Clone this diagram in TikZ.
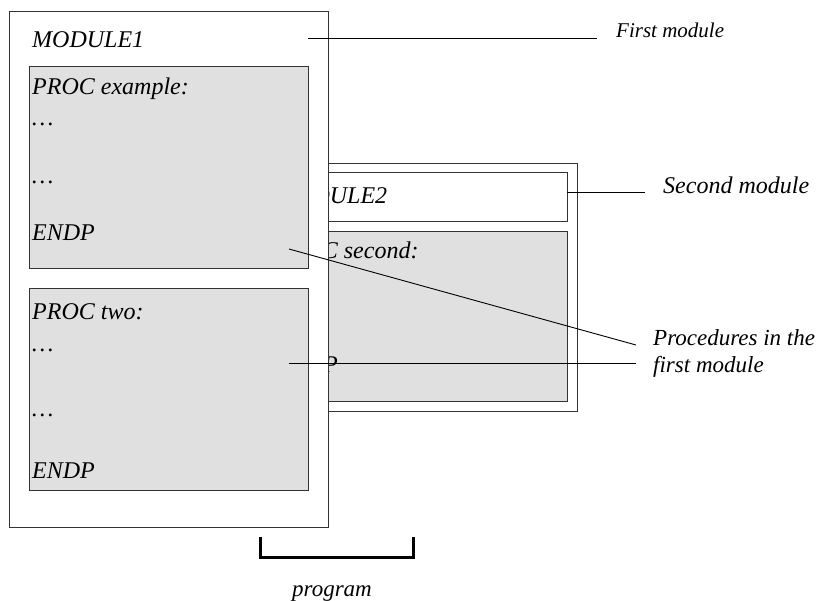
\documentclass[tikz,border=0pt]{standalone}
\usepackage{fontspec}
\setmainfont{Liberation Serif}
\begin{document}
\begin{tikzpicture}[x=1pt,y=-1pt,
  boxline/.style={draw=black!80,line width=1pt},
  modbox/.style={boxline,fill=white,rectangle,inner sep=0pt,anchor=north west},
  procbox/.style={boxline,fill=black!12,rectangle,inner sep=0pt,anchor=north west},
  code/.style={inner sep=0pt,anchor=base west,font=\fontsize{24}{28}\selectfont\itshape},
  lbl/.style={inner sep=0pt,anchor=base west,font=\fontsize{23}{27}\selectfont\itshape},
  conn/.style={draw=black,line width=0.9pt}]
\useasboundingbox (0,0) rectangle (830,600);
% module 2 (behind)
\node[modbox,minimum width=325pt,minimum height=248pt] (m2) at (252,163) {};
\node[modbox,minimum width=305pt,minimum height=49pt] (m2t) at (262,172) {};
\node[procbox,minimum width=305pt,minimum height=170pt] (m2p) at (262,231) {};
\node[code] (m2name) at (275,203) {MODULE2};
\node[code] (m2proc) at (275,258) {PROC second:};
\node[code] (m2end) at (275,372) {ENDP};
% module 1 (front)
\node[modbox,minimum width=319pt,minimum height=516pt] (m1) at (9,11) {};
\node[code] (m1name) at (32,47) {MODULE1};
\node[procbox,minimum width=279pt,minimum height=202pt] (p1) at (29,66) {};
\node[code] (p1a) at (32,94) {PROC example:};
\node[code] (p1b) at (32,125) {…};
\node[code] (p1c) at (32,183) {…};
\node[code] (p1d) at (32,240) {ENDP};
\node[procbox,minimum width=279pt,minimum height=202pt] (p2) at (29,288) {};
\node[code] (p2a) at (32,319) {PROC two:};
\node[code] (p2b) at (32,351) {…};
\node[code] (p2c) at (32,416) {…};
\node[code] (p2d) at (32,478) {ENDP};
% labels
\node[inner sep=0pt,anchor=base west,font=\fontsize{21}{25}\selectfont\itshape] (lfirst) at (616,37) {First module};
\node[lbl,font=\fontsize{24}{28}\selectfont\itshape] (lsecond) at (663,193) {Second module};
\node[lbl] (lproc1) at (653,345) {Procedures in the};
\node[lbl] (lproc2) at (653,372) {first module};
\node[lbl] (lprog) at (292,596) {program};
% connector points
\coordinate (c1a) at (308,38);
\coordinate (c1b) at (597,38);
\coordinate (c2a) at (567,192);
\coordinate (c2b) at (645,192);
\coordinate (c3a) at (289,249);
\coordinate (c3b) at (636,345);
\coordinate (c4a) at (289,363);
\coordinate (c4b) at (636,363);
\draw[conn] (c1a) -- (c1b);
\draw[conn] (c2a) -- (c2b);
\draw[conn] (c3a) -- (c3b);
\draw[conn] (c4a) -- (c4b);
% bracket
\coordinate (b1) at (260,537);
\coordinate (b2) at (260,557);
\coordinate (b3) at (413,557);
\coordinate (b4) at (413,537);
\draw[line width=3pt,black] (b1) -- (b2) -- (b3) -- (b4);
\end{tikzpicture}
\end{document}
